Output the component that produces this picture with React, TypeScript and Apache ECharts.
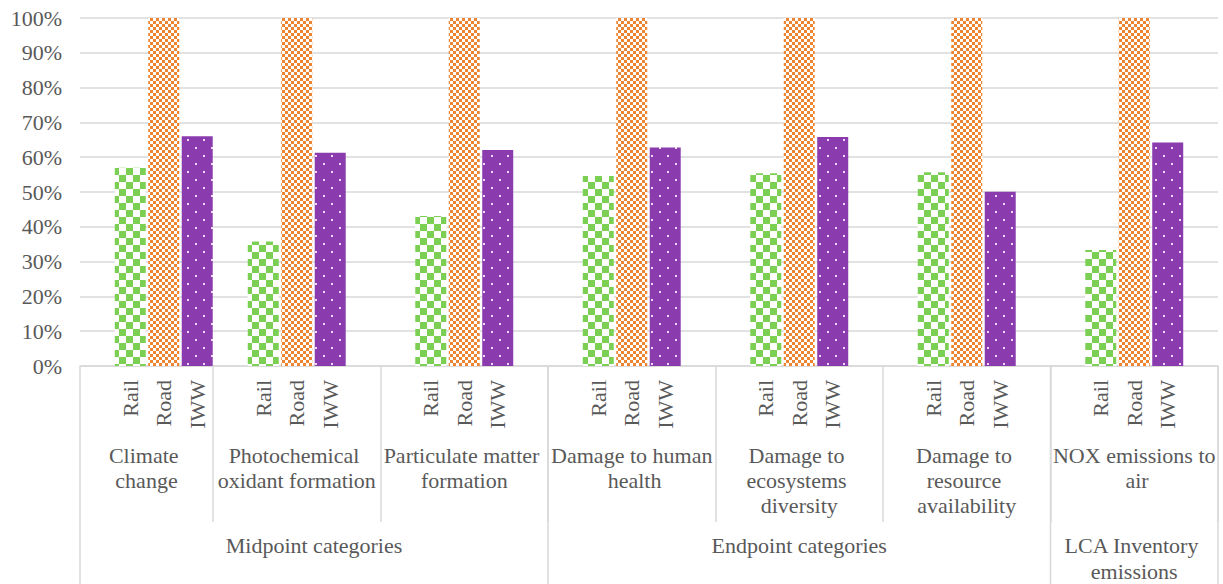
import { useEffect, useRef } from "react";
import * as echarts from "echarts";

// Impact categories (second axis level) and the transport modes (first level)
const groups = [
  "Climate change",
  "Photochemical oxidant formation",
  "Particulate matter formation",
  "Damage to human health",
  "Damage to ecosystems diversity",
  "Damage to resource availability",
  "NOX emissions to air",
];
const modes = ["Rail", "Road", "IWW"];

// Relative impact, % of the road value
const rail = [57, 35.8, 43.1, 54.6, 55.4, 55.7, 33.3];
const road = [100, 100, 100, 100, 100, 100, 100];
const iww = [66, 61.3, 62.1, 62.8, 65.8, 50.1, 64.2];

// Top axis level: names and how many categories each one spans
const superGroups = ["Midpoint categories", "Endpoint categories", "LCA Inventory emissions"];
const superSpans = [3, 3, 1];

const W = 1223;
const H = 584;
const PLOT_LEFT = 80;
const PLOT_RIGHT = 1218;
const PLOT_TOP = 18;
const PLOT_BOTTOM = 366;
const FIRST_BOUNDARY = 213;
const SLOT = (PLOT_RIGHT - FIRST_BOUNDARY) / (groups.length - 1);

const FONT = "'Liberation Serif', 'Times New Roman', serif";
const TEXT = "#595959";
const RULE = "#d9d9d9";

function checker(color: string, cell: number) {
  const c = document.createElement("canvas");
  c.width = c.height = cell * 2;
  const ctx = c.getContext("2d")!;
  ctx.fillStyle = "#ffffff";
  ctx.fillRect(0, 0, cell * 2, cell * 2);
  ctx.fillStyle = color;
  ctx.fillRect(0, 0, cell, cell);
  ctx.fillRect(cell, cell, cell, cell);
  return { image: c, repeat: "repeat", imageWidth: cell * 2, imageHeight: cell * 2 };
}

function dotted(color: string, dot: string, tile: number) {
  const c = document.createElement("canvas");
  c.width = c.height = tile;
  const ctx = c.getContext("2d")!;
  ctx.fillStyle = color;
  ctx.fillRect(0, 0, tile, tile);
  ctx.fillStyle = dot;
  ctx.fillRect(3, 3, 2, 2);
  ctx.fillRect(3 + tile / 2, 3 + tile / 2, 2, 2);
  return { image: c, repeat: "repeat", imageWidth: tile, imageHeight: tile };
}

// x of the boundary that closes category g
function boundaryAfter(g: number) {
  return FIRST_BOUNDARY + g * SLOT;
}

export default function App() {
  const ref = useRef<HTMLDivElement>(null);

  useEffect(() => {
    document.body.style.margin = "0";
    const chart = echarts.init(ref.current!, null, { renderer: "svg" });

    const fills = [checker("#7bd053", 7), checker("#ef8430", 3), dotted("#8a3cae", "#f3d6f3", 16)];
    const values = [rail, road, iww];

    const barLabel = {
      show: true,
      position: "bottom",
      distance: 14,
      rotate: 90,
      align: "right",
      verticalAlign: "middle",
      color: TEXT,
      fontSize: 22,
      fontFamily: FONT,
      formatter: (p: any) => p.seriesName,
    };

    const makeSeries = (axis: number, pick: (arr: number[]) => number[]) =>
      modes.map((m, k) => ({
        name: m,
        type: "bar",
        xAxisIndex: axis,
        yAxisIndex: axis,
        data: pick(values[k]),
        barWidth: 31,
        barGap: "8%",
        itemStyle: { color: fills[k] },
        label: barLabel,
        silent: true,
        emphasis: { disabled: true },
      }));

    const axisText = {
      color: TEXT,
      fontSize: 22,
      fontFamily: FONT,
      lineHeight: 25,
    };

    const graphic: any[] = [];
    // outer separators of the top axis level
    const edges = [PLOT_LEFT];
    let acc = 0;
    superSpans.forEach((s) => {
      acc += s;
      edges.push(boundaryAfter(acc - 1));
    });
    edges.forEach((x) => {
      graphic.push({
        type: "line",
        shape: { x1: x, y1: PLOT_BOTTOM, x2: x, y2: H },
        style: { stroke: RULE, lineWidth: 1.5 },
        silent: true,
      });
    });
    superGroups.forEach((name, i) => {
      const x0 = edges[i];
      const x1 = edges[i + 1];
      graphic.push({
        type: "text",
        x: (x0 + x1) / 2,
        y: 532,
        silent: true,
        style: {
          text: name,
          fill: TEXT,
          fontSize: 22,
          fontFamily: FONT,
          lineHeight: 26,
          width: x1 - x0 - 8,
          overflow: "break",
          align: "center",
          textAlign: "center",
          verticalAlign: "top",
          textVerticalAlign: "top",
        },
      });
    });

    chart.setOption({
      animation: false,
      backgroundColor: "#ffffff",
      grid: [
        { left: PLOT_LEFT, right: W - PLOT_RIGHT, top: PLOT_TOP, bottom: H - PLOT_BOTTOM },
        { left: FIRST_BOUNDARY, right: W - PLOT_RIGHT, top: PLOT_TOP, bottom: H - PLOT_BOTTOM },
        { left: PLOT_LEFT, width: SLOT, top: PLOT_TOP, bottom: H - PLOT_BOTTOM },
      ],
      xAxis: [
        {
          gridIndex: 0,
          type: "category",
          data: groups,
          axisLine: { show: true, lineStyle: { color: RULE, width: 1.5 } },
          axisTick: { show: false },
          axisLabel: { show: false },
          splitLine: { show: false },
        },
        {
          gridIndex: 1,
          type: "category",
          data: groups.slice(1),
          axisLine: { show: false },
          axisTick: {
            show: true,
            interval: 0,
            length: 156,
            lineStyle: { color: RULE, width: 1.5 },
          },
          axisLabel: {
            ...axisText,
            interval: 0,
            margin: 77,
            width: 166,
            overflow: "break",
          },
        },
        {
          gridIndex: 2,
          type: "category",
          data: groups.slice(0, 1),
          axisLine: { show: false },
          axisTick: { show: false },
          axisLabel: {
            ...axisText,
            interval: 0,
            margin: 77,
            width: FIRST_BOUNDARY - PLOT_LEFT,
            overflow: "break",
            padding: [0, SLOT - (FIRST_BOUNDARY - PLOT_LEFT), 0, 0],
          },
        },
      ],
      yAxis: [
        {
          gridIndex: 0,
          type: "value",
          min: 0,
          max: 100,
          interval: 10,
          axisLine: { show: false },
          axisTick: { show: false },
          axisLabel: {
            formatter: "{value}%",
            color: TEXT,
            fontSize: 22,
            fontFamily: FONT,
            margin: 18,
          },
          splitLine: { lineStyle: { color: RULE, width: 1.5 } },
        },
        { gridIndex: 1, type: "value", min: 0, max: 100, show: false },
        { gridIndex: 2, type: "value", min: 0, max: 100, show: false },
      ],
      series: [
        ...makeSeries(2, (a) => a.slice(0, 1)),
        ...makeSeries(1, (a) => a.slice(1)),
      ],
      graphic,
    });

    return () => chart.dispose();
  }, []);

  return (
    <div
      ref={ref}
      style={{ position: "fixed", left: 0, top: 0, width: W, height: H, background: "#fff" }}
    />
  );
}
